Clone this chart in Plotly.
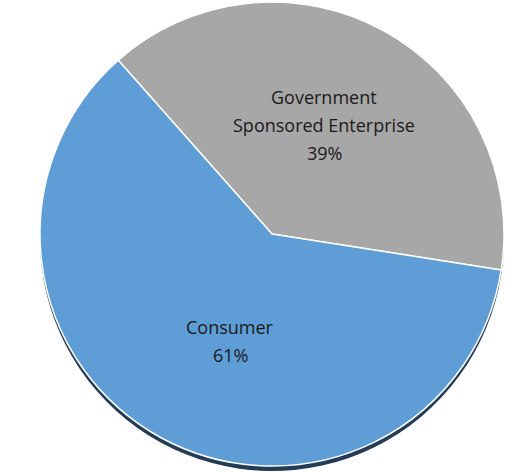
import plotly.graph_objects as go

# Share of outstanding balances by holder type
categories = ["Government<br>Sponsored Enterprise", "Consumer"]
shares = [39, 61]

slice_colors = ["#a7a7a7", "#5f9dd6"]
shadow_color = "#243c55"

W, H = 518, 472
cx, cy, r = 272, 234, 232  # pie centre and radius in pixels (from top-left)

# label anchor (centre x, first-line y) per slice, in pixels from top-left
label_anchor = [(324, 97), (230, 327)]
line_step = 28


def domain(dy=0):
    top = cy - r + dy
    bottom = cy + r + dy
    return dict(
        x=[max(0, (cx - r) / W), min(1, (cx + r) / W)],
        y=[max(0, (H - bottom) / H), min(1, (H - top) / H)],
    )


fig = go.Figure()

# dark drop shadow beneath the pie
fig.add_trace(go.Pie(
    labels=categories,
    values=shares,
    sort=False,
    direction="clockwise",
    rotation=-41.5,
    domain=domain(5),
    marker=dict(colors=[shadow_color, shadow_color], line=dict(width=0)),
    textinfo="none",
    hoverinfo="skip",
    showlegend=False,
))

# main pie
fig.add_trace(go.Pie(
    labels=categories,
    values=shares,
    sort=False,
    direction="clockwise",
    rotation=-41.5,
    domain=domain(0),
    marker=dict(colors=slice_colors, line=dict(color="white", width=1.5)),
    textinfo="none",
    showlegend=False,
))

# slice labels: category name followed by its percentage
for cat, val, (ax, ay) in zip(categories, shares, label_anchor):
    lines = cat.split("<br>") + [f"{val}%"]
    for i, line in enumerate(lines):
        fig.add_annotation(
            x=ax / W,
            y=(H - (ay + i * line_step)) / H,
            xref="paper",
            yref="paper",
            text=line,
            showarrow=False,
            xanchor="center",
            yanchor="middle",
            font=dict(family="Open Sans", size=18, color="#1a1a1a"),
        )

fig.update_layout(
    width=W,
    height=H,
    margin=dict(l=0, r=0, t=0, b=0),
    paper_bgcolor="white",
    plot_bgcolor="white",
    showlegend=False,
)

fig.write_html("out.html")
